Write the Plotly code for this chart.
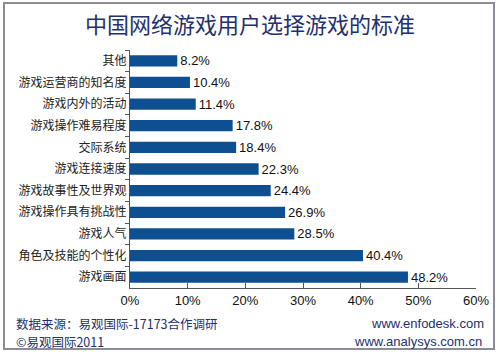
import plotly.graph_objects as go

categories = ["其他", "游戏运营商的知名度", "游戏内外的活动", "游戏操作难易程度", "交际系统",
              "游戏连接速度", "游戏故事性及世界观", "游戏操作具有挑战性", "游戏人气",
              "角色及技能的个性化", "游戏画面"]
values = [8.2, 10.4, 11.4, 17.8, 18.4, 22.3, 24.4, 26.9, 28.5, 40.4, 48.2]
x_ticks = [0, 10, 20, 30, 40, 50, 60]
x_tick_labels = ["0%", "10%", "20%", "30%", "40%", "50%", "60%"]

FONT = "Arial, Liberation Sans, Noto Sans CJK SC, sans-serif"
CJK = "Noto Sans CJK SC, sans-serif"
NAVY = "#23306e"

fig = go.Figure(go.Bar(
    y=categories, x=values, orientation="h",
    marker=dict(color="#0d4f90", line=dict(width=0)),
    width=0.52,
    text=[f"{v:.1f}%" for v in values], textposition="outside",
    constraintext="none",
    textfont=dict(size=13, color="#111", family=FONT),
    cliponaxis=False,
))

L, R, T, B = 130, 24, 50, 68
pw, ph = 500 - L - R, 356 - T - B

def px(x):
    return (x - L) / pw

def py(y):
    return (356 - B - y) / ph

fig.update_layout(
    width=500, height=356,
    margin=dict(l=L, r=R, t=T, b=B, autoexpand=False),
    paper_bgcolor="white", plot_bgcolor="white",
    showlegend=False,
    font=dict(family=FONT, size=12, color="#222"),
    title=dict(text="中国网络游戏用户选择游戏的标准", x=0.5, xanchor="center",
               y=1 - 25 / 356, yanchor="middle", xref="container", yref="container",
               font=dict(size=22, color=NAVY, family=CJK)),
    xaxis=dict(range=[0, 60], tickvals=x_ticks, ticktext=x_tick_labels,
               showgrid=False, zeroline=False, showline=True, linecolor="#555", linewidth=1,
               ticks="inside", ticklen=5, tickcolor="#555",
               tickfont=dict(size=13, color="#111")),
    yaxis=dict(autorange="reversed", showgrid=False, showline=True, linecolor="#555",
               linewidth=1, ticks="outside", ticklen=4, tickcolor="#555",
               tickson="boundaries",
               tickfont=dict(size=12, color="#222", family=CJK)),
    bargap=0.48,
    shapes=[dict(type="rect", xref="paper", yref="paper",
                 x0=px(4), x1=px(494), y0=py(349), y1=py(3),
                 line=dict(color="#8c8c98", width=2), fillcolor="rgba(0,0,0,0)",
                 layer="above")],
    annotations=[
        dict(text="数据来源：易观国际-17173合作调研", xref="paper", yref="paper",
             x=px(14), y=py(323), xanchor="left", yanchor="middle", showarrow=False,
             font=dict(size=12.5, color=NAVY, family=CJK)),
        dict(text="©易观国际2011", xref="paper", yref="paper",
             x=px(14), y=py(341), xanchor="left", yanchor="middle", showarrow=False,
             font=dict(size=12.5, color=NAVY, family=CJK)),
        dict(text="www.enfodesk.com", xref="paper", yref="paper",
             x=px(486), y=py(323), xanchor="right", yanchor="middle", showarrow=False,
             font=dict(size=13, color=NAVY, family=FONT)),
        dict(text="www.analysys.com.cn", xref="paper", yref="paper",
             x=px(484), y=py(341), xanchor="right", yanchor="middle", showarrow=False,
             font=dict(size=13, color=NAVY, family=FONT)),
    ],
)

fig.write_html("out.html", config={"displayModeBar": False},
               post_script="document.body.style.margin='0';")
